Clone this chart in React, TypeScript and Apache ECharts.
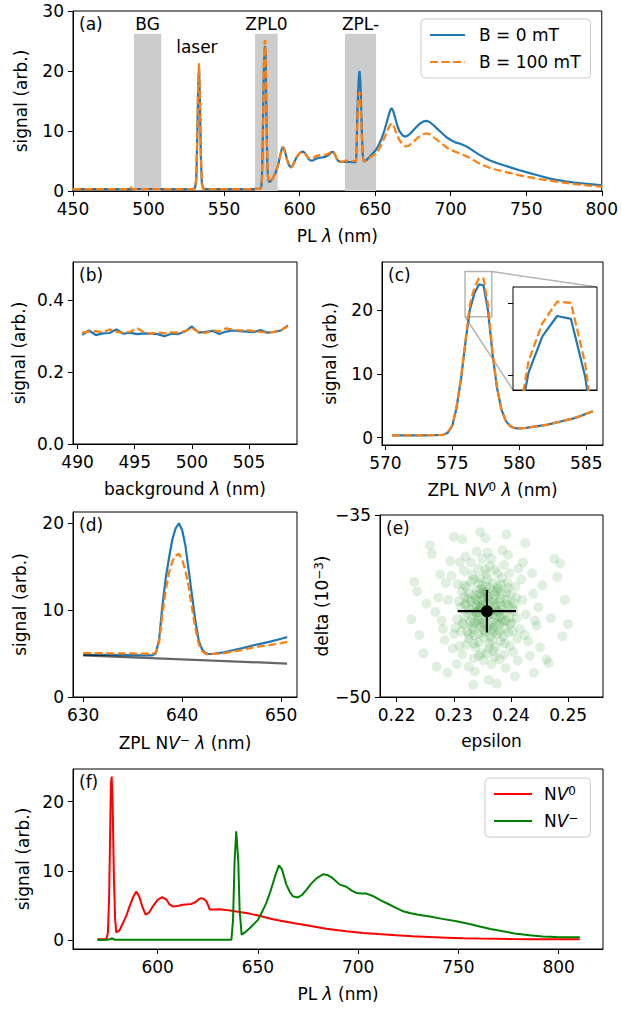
import React, { useEffect, useRef } from "react";
import * as echarts from "echarts";

const FONT = "DejaVu Sans";
const FS = 17;
const BLUE = "#1f77b4";
const ORANGE = "#ff7f0e";

// ---------- spectra, B = 0 mT (B) and B = 100 mT (O) ----------
const lowX = [450, 458, 466, 474, 482, 486.5, 488.2, 489.5];
const lowB = [0.3, 0.3, 0.3, 0.3, 0.3, 0.3, 0.31, 0.3];
const lowO = [0.3, 0.3, 0.3, 0.3, 0.3, 0.33, 0.6, 0.32];

// background window (panel b)
const bgX = [490.4, 491.0, 491.6, 492.2, 492.8, 493.4, 494.0, 494.6, 495.2, 495.8, 496.4, 497.0, 497.6, 498.2, 498.8, 499.4, 500.0, 500.6, 501.2, 501.8, 502.4, 503.0, 503.6, 504.2, 504.8, 505.4, 506.0, 506.6, 507.2, 507.8, 508.4];
const bgB = [0.303, 0.315, 0.302, 0.307, 0.308, 0.318, 0.306, 0.309, 0.305, 0.307, 0.306, 0.305, 0.299, 0.306, 0.305, 0.312, 0.326, 0.309, 0.311, 0.314, 0.305, 0.312, 0.315, 0.313, 0.312, 0.31, 0.316, 0.309, 0.311, 0.315, 0.329];
const bgO = [0.309, 0.312, 0.313, 0.31, 0.318, 0.311, 0.309, 0.311, 0.322, 0.31, 0.306, 0.31, 0.307, 0.31, 0.309, 0.313, 0.322, 0.31, 0.308, 0.316, 0.312, 0.321, 0.318, 0.315, 0.316, 0.313, 0.311, 0.309, 0.311, 0.316, 0.327];

const laserX = [509, 515, 520, 526, 529.5, 530.8, 531.6, 532.2, 532.8, 533.4, 534.0, 534.6, 535.3, 536.2, 538, 545, 555, 565, 570];
const laserB = [0.31, 0.31, 0.3, 0.3, 0.32, 0.5, 2.0, 8.0, 16.5, 20.5, 15.5, 6.0, 1.2, 0.4, 0.32, 0.3, 0.3, 0.3, 0.33];
const laserO = [0.31, 0.31, 0.3, 0.3, 0.32, 0.5, 2.1, 8.5, 17.5, 21.3, 16.0, 6.2, 1.2, 0.4, 0.32, 0.3, 0.3, 0.3, 0.33];

// NV0 zero-phonon line window (panel c)
const zpl0X = [570.5, 571.5, 572.5, 573.5, 574.3, 574.65, 575.0, 575.3, 575.65, 576.0, 576.32, 576.65, 577.0, 577.33, 577.67, 578.0, 578.33, 578.67, 579.0, 579.33, 579.67, 580.0, 580.5, 581.0, 581.5, 582.0, 582.5, 583.0, 583.5, 584.0, 584.5, 585.0, 585.5];
const zpl0B = [0.35, 0.35, 0.36, 0.38, 0.45, 0.75, 1.9, 4.5, 9.2, 15.3, 20.2, 22.7, 24.1, 23.9, 19.9, 13.2, 7.9, 4.4, 2.6, 1.8, 1.5, 1.45, 1.55, 1.7, 1.85, 2.0, 2.25, 2.5, 2.75, 3.0, 3.35, 3.75, 4.15];
const zpl0O = [0.35, 0.35, 0.36, 0.38, 0.45, 0.78, 2.0, 4.7, 9.5, 15.6, 21.0, 23.6, 25.1, 25.0, 20.8, 13.5, 8.0, 4.4, 2.6, 1.8, 1.5, 1.45, 1.55, 1.7, 1.85, 2.0, 2.25, 2.5, 2.75, 3.0, 3.35, 3.75, 4.15];

const midX = [586.0, 586.7, 587.5, 588.2, 588.9, 589.6, 590.5, 591.5, 592.5, 593.5, 594.4, 595.5, 596.8, 598.2, 599.6, 601.0, 602.3, 603.5, 604.8, 606.0, 607.4, 609.0, 611.0, 613.0, 615.0, 617.0, 619.0, 620.5, 621.5, 622.5, 623.5, 624.5, 625.5, 626.5, 627.5, 629.0];
const midB = [4.6, 5.4, 6.3, 7.0, 7.35, 7.1, 6.4, 5.4, 4.6, 4.1, 3.95, 4.3, 5.0, 5.7, 6.2, 6.5, 6.55, 6.3, 5.8, 5.3, 5.05, 5.1, 5.4, 5.55, 5.6, 5.7, 5.95, 6.3, 6.55, 6.45, 6.0, 5.4, 5.0, 4.9, 4.85, 4.85];
const midO = [4.6, 5.4, 6.3, 7.0, 7.3, 7.0, 6.3, 5.3, 4.5, 4.0, 3.9, 4.25, 5.0, 5.7, 6.2, 6.45, 6.5, 6.3, 5.85, 5.45, 5.3, 5.5, 5.85, 5.95, 6.0, 6.05, 6.2, 6.5, 6.65, 6.5, 6.05, 5.45, 5.05, 4.95, 4.9, 4.9];

// NV- zero-phonon line window (panel d)
const zplmX = [630.0, 631.5, 633.0, 634.5, 636.0, 637.0, 637.33, 637.67, 638.0, 638.33, 638.67, 639.0, 639.33, 639.67, 640.0, 640.33, 640.67, 641.0, 641.33, 641.67, 642.0, 642.33, 642.67, 643.0, 644.0, 645.0, 646.0, 647.0, 648.0, 649.0, 650.0, 650.6];
const zplmB = [4.85, 4.85, 4.83, 4.82, 4.8, 4.8, 5.0, 6.6, 10.5, 13.6, 16.0, 18.1, 19.4, 20.0, 19.2, 17.4, 14.5, 11.6, 8.8, 6.5, 5.5, 5.1, 4.95, 4.95, 5.1, 5.35, 5.6, 5.9, 6.15, 6.4, 6.7, 6.9];
const zplmO = [5.05, 5.05, 5.03, 5.02, 5.0, 5.0, 5.1, 6.3, 9.5, 12.2, 14.3, 15.6, 16.3, 16.5, 15.8, 14.5, 12.6, 10.2, 7.9, 6.1, 5.3, 5.0, 4.9, 4.95, 5.0, 5.2, 5.4, 5.65, 5.85, 6.0, 6.2, 6.35];
const fitX = [630, 650.6];
const fitY = [4.8, 3.85];

const tailX = [651.5, 653, 654.5, 656, 657.5, 659, 660.2, 661.0, 662.0, 663.2, 664.5, 666, 668, 670, 672, 674.5, 677, 679.5, 682, 684, 686, 688.5, 691, 694, 697, 700, 703, 706, 709, 712, 715, 718.5, 722, 726, 730, 735, 740, 745, 750, 755, 760, 765, 770, 776, 782, 788, 794, 800];
const tailB = [7.3, 8.0, 8.9, 10.0, 11.3, 12.7, 13.6, 13.8, 13.3, 12.2, 11.0, 10.0, 9.3, 9.05, 9.3, 9.9, 10.6, 11.2, 11.6, 11.7, 11.5, 11.0, 10.4, 9.7, 9.0, 8.5, 8.1, 7.9, 7.6, 7.2, 6.7, 6.1, 5.6, 5.1, 4.7, 4.3, 3.9, 3.5, 3.15, 2.8, 2.45, 2.1, 1.85, 1.6, 1.4, 1.25, 1.1, 0.95];
const tailO = [6.6, 7.2, 7.9, 8.8, 9.7, 10.6, 11.1, 11.3, 11.0, 10.2, 9.3, 8.5, 7.8, 7.45, 7.5, 8.0, 8.6, 9.1, 9.5, 9.6, 9.45, 9.0, 8.5, 7.9, 7.3, 6.85, 6.55, 6.25, 5.95, 5.6, 5.15, 4.65, 4.25, 3.85, 3.55, 3.25, 2.95, 2.65, 2.4, 2.15, 1.95, 1.75, 1.55, 1.35, 1.15, 1.0, 0.85, 0.72];

const bandNames = ["BG", "ZPL0", "ZPL-"];
const bandTop = 26.2;
const laserLabel = { x: 532, y: 24, text: "laser" };
const insetBoxX = [575.95, 577.95];
const insetBoxY = [19.0, 26.1];

// ---------- panel (e): epsilon / delta samples ----------
const epsDelta = [
  [0.2358,-42.9],[0.2331,-42.1],[0.2384,-43.6],[0.2347,-44.2],[0.2372,-41.6],[0.2319,-43.3],[0.2396,-42.4],[0.2352,-41.3],[0.2365,-44.5],[0.2338,-43.0],
  [0.2401,-43.9],[0.2325,-41.9],[0.2380,-42.2],[0.2343,-43.7],[0.2369,-43.2],[0.2312,-42.6],[0.2392,-41.4],[0.2355,-44.7],[0.2377,-40.9],[0.2334,-44.4],
  [0.2361,-42.0],[0.2389,-44.3],[0.2328,-42.8],[0.2350,-40.8],[0.2405,-42.9],[0.2340,-41.2],[0.2374,-43.9],[0.2317,-44.0],[0.2398,-43.4],[0.2357,-43.5],
  [0.2383,-40.7],[0.2322,-40.9],[0.2346,-42.5],[0.2371,-42.6],[0.2363,-41.0],[0.2336,-44.9],[0.2409,-41.8],[0.2306,-43.6],[0.2387,-45.0],[0.2353,-41.8],
  [0.2367,-45.3],[0.2330,-40.5],[0.2394,-40.6],[0.2344,-45.5],[0.2376,-44.8],[0.2314,-41.3],[0.2359,-40.3],[0.2403,-44.6],[0.2326,-45.2],[0.2381,-41.9],
  [0.2349,-42.7],[0.2363,-43.1],[0.2341,-43.3],[0.2373,-42.4],[0.2356,-42.3],[0.2367,-43.8],[0.2337,-41.6],[0.2379,-44.0],[0.2345,-44.0],[0.2386,-42.8],
  [0.2329,-43.8],[0.2360,-41.7],[0.2351,-43.9],[0.2375,-41.3],[0.2339,-42.4],[0.2390,-43.1],[0.2321,-42.3],[0.2362,-44.1],[0.2354,-41.5],[0.2381,-43.4],
  [0.2333,-43.5],[0.2370,-42.0],[0.2348,-41.1],[0.2393,-42.0],[0.2316,-43.9],[0.2364,-45.0],[0.2342,-42.9],[0.2378,-43.0],[0.2358,-44.3],[0.2327,-41.5],
  [0.2399,-44.0],[0.2344,-40.6],[0.2368,-40.6],[0.2335,-43.9],[0.2382,-45.4],[0.2352,-45.1],[0.2324,-44.6],[0.2406,-42.3],[0.2309,-42.1],[0.2373,-45.9],
  [0.2357,-39.9],[0.2338,-45.9],[0.2395,-41.0],[0.2318,-40.8],[0.2361,-46.0],[0.2384,-40.2],[0.2332,-39.9],[0.2410,-43.5],[0.2303,-44.3],[0.2349,-42.0],
  [0.2360,-43.3],[0.2347,-42.6],[0.2371,-44.6],[0.2338,-41.9],[0.2385,-43.8],[0.2325,-43.1],[0.2392,-42.3],[0.2356,-40.9],[0.2366,-42.8],[0.2343,-44.8],
  [0.2378,-41.1],[0.2332,-44.2],[0.2400,-41.6],[0.2351,-42.4],[0.2374,-43.4],[0.2319,-41.7],[0.2362,-45.6],[0.2346,-40.2],[0.2389,-45.6],[0.2327,-44.9],
  [0.2354,-43.0],[0.2369,-41.3],[0.2341,-42.0],[0.2383,-42.5],[0.2336,-45.6],[0.2395,-44.7],[0.2313,-44.6],[0.2377,-39.8],[0.2358,-46.4],[0.2408,-40.9],
  [0.2349,-43.6],[0.2365,-42.2],[0.2334,-42.6],[0.2380,-44.6],[0.2355,-39.5],[0.2322,-45.7],[0.2397,-39.8],[0.2344,-46.6],[0.2372,-46.7],[0.2307,-40.7],
  [0.2416,-44.4],[0.2363,-39.2],[0.2330,-38.9],[0.2388,-46.5],[0.2352,-44.5],[0.2376,-42.9],[0.2340,-43.1],[0.2391,-43.7],[0.2320,-42.4],[0.2411,-45.2],
  [0.2357,-41.4],[0.2370,-44.2],[0.2345,-41.5],[0.2384,-41.5],[0.2335,-40.3],[0.2402,-42.6],[0.2315,-46.5],[0.2366,-47.3],[0.2350,-38.6],[0.2420,-42.0],
  [0.2290,-42.0],[0.2426,-43.2],[0.2300,-44.8],[0.2418,-40.3],[0.2343,-39.4],[0.2370,-46.2],[0.2286,-40.6],[0.2430,-45.4],[0.2311,-38.9],[0.2404,-46.3],
  [0.2279,-43.7],[0.2439,-41.5],[0.2352,-47.0],[0.2366,-38.6],[0.2298,-46.0],[0.2421,-38.9],[0.2335,-46.8],[0.2388,-39.1],[0.2273,-41.8],[0.2445,-44.1],
  [0.2318,-39.6],[0.2412,-47.0],[0.2294,-38.8],[0.2433,-46.6],[0.2359,-38.1],[0.2380,-46.9],[0.2284,-45.3],[0.2448,-42.6],[0.2305,-47.3],[0.2395,-38.3],
  [0.2326,-47.5],[0.2413,-39.4],[0.2268,-43.0],[0.2455,-40.8],[0.2340,-38.0],[0.2391,-47.6],[0.2296,-40.0],[0.2424,-44.9],[0.2310,-45.8],[0.2437,-39.8],
  [0.2348,-46.4],[0.2372,-39.5],[0.2281,-44.4],[0.2442,-43.7],[0.2321,-38.4],[0.2398,-45.8],[0.2276,-39.9],[0.2451,-45.9],[0.2337,-47.9],[0.2385,-37.9],
  [0.2252,-42.3],[0.2470,-43.5],[0.2262,-38.2],[0.2466,-47.2],[0.2355,-36.9],[0.2361,-48.6],[0.2240,-44.9],[0.2481,-40.1],[0.2289,-48.0],[0.2425,-37.3],
  [0.2231,-40.5],[0.2490,-45.0],[0.2315,-37.0],[0.2407,-48.3],[0.2247,-46.4],[0.2476,-38.6],[0.2300,-36.8],[0.2440,-48.0],[0.2226,-43.6],[0.2494,-42.0],
  [0.2334,-49.0],[0.2392,-36.6],[0.2258,-37.5],[0.2462,-46.9],[0.2270,-47.5],[0.2486,-39.0],[0.2346,-36.4],[0.2375,-48.9],[0.2236,-41.3],[0.2500,-44.0]
];
const meanPoint = [0.2358, -42.93];
const meanErr = [0.0051, 1.75];

// ---------- panel (f): separated NV0 / NV- spectra ----------
const nv0X = [570, 572, 574.4, 575.2, 575.8, 576.3, 576.7, 577.1, 577.6, 578.2, 578.8, 579.4, 581, 582.7, 584.5, 586, 587.8, 589.4, 590.8, 592.5, 594, 595.8, 597.7, 600, 602.3, 604.5, 606, 607.6, 610, 612.6, 615, 616.8, 619, 620.5, 621.8, 623.2, 624.3, 625.2, 626, 628, 631, 634, 637.6, 641, 644.2, 647.5, 650.9, 654, 657.5, 662, 667.5, 672, 677, 684.1, 690, 694.1, 702.4, 710, 719, 727, 735.6, 744, 752.3, 760, 768.9, 777, 785.5, 795, 803, 810.5];
const nv0Y = [0.1, 0.12, 0.15, 1.0, 6.0, 15.0, 22.5, 23.6, 19.0, 9.0, 3.0, 1.1, 1.4, 2.45, 3.6, 4.85, 6.2, 7.0, 6.3, 4.7, 3.65, 4.0, 4.9, 5.8, 6.2, 5.8, 5.1, 4.85, 4.9, 5.1, 5.15, 5.2, 5.5, 5.9, 6.05, 5.9, 5.6, 5.0, 4.4, 4.4, 4.45, 4.35, 4.2, 4.05, 3.9, 3.7, 3.5, 3.25, 3.0, 2.75, 2.45, 2.25, 2.0, 1.63, 1.4, 1.25, 1.0, 0.85, 0.68, 0.55, 0.43, 0.34, 0.25, 0.2, 0.17, 0.14, 0.12, 0.12, 0.12, 0.12];
const nvmX = [570, 575, 576.5, 577.3, 578.5, 585, 600, 615, 630, 636.8, 637.6, 638.4, 639.2, 640.2, 640.9, 641.9, 643.5, 645.9, 648, 650, 652, 654.1, 656, 657.5, 659, 660.5, 662, 664.2, 666, 667.5, 670, 672, 674.1, 676.5, 679.2, 682.5, 684.5, 687, 690.8, 694.1, 697, 699.1, 702, 704.1, 707, 710.8, 715, 719.1, 722, 725.7, 730, 735.7, 742, 749, 755, 760.6, 766, 772.2, 778, 785.5, 792, 798.8, 805, 810.5];
const nvmY = [0.0, 0.03, 0.15, 0.25, 0.05, 0.02, 0.02, 0.02, 0.03, 0.05, 2.9, 11.5, 15.7, 11.5, 4.3, 0.75, 1.1, 1.7, 2.3, 2.9, 4.0, 5.3, 6.8, 8.2, 9.6, 10.8, 10.2, 8.0, 6.9, 6.3, 6.15, 6.5, 7.2, 8.1, 8.9, 9.5, 9.4, 9.0, 8.0, 7.7, 7.1, 6.8, 6.7, 6.7, 6.4, 5.8, 5.2, 4.6, 4.2, 3.9, 3.65, 3.4, 3.05, 2.7, 2.35, 1.95, 1.6, 1.25, 0.95, 0.67, 0.52, 0.42, 0.4, 0.4];

// ---------- tick values ----------
const ticksAX = [450, 500, 550, 600, 650, 700, 750, 800];
const ticksAY = [0, 10, 20, 30];
const ticksBX = [490, 495, 500, 505];
const ticksBY = [0, 0.2, 0.4];
const ticksCX = [570, 575, 580, 585];
const ticksCY = [0, 10, 20];
const ticksInsetY = [20, 25];
const ticksDX = [630, 640, 650];
const ticksDY = [0, 10, 20];
const ticksEX = [0.22, 0.23, 0.24, 0.25];
const ticksEY = [-50, -35];
const ticksFX = [600, 650, 700, 750, 800];
const ticksFY = [0, 10, 20];

const zip = (xs: number[], ys: number[]) => xs.map((x, i) => [x, ys[i]]);
const fullB = [
  ...zip(lowX, lowB), ...zip(bgX, bgB), ...zip(laserX, laserB), ...zip(zpl0X, zpl0B),
  ...zip(midX, midB), ...zip(zplmX, zplmB), ...zip(tailX, tailB),
];
const fullO = [
  ...zip(lowX, lowO), ...zip(bgX, bgO), ...zip(laserX, laserO), ...zip(zpl0X, zpl0O),
  ...zip(midX, midO), ...zip(zplmX, zplmO), ...zip(tailX, tailO),
];

const minus = (s: string) => s.replace("-", "\u2212");

const RICH = {
  i: { fontStyle: "italic", fontSize: FS, fontFamily: FONT, color: "#000" },
  s: { fontSize: 12, fontFamily: FONT, color: "#000", verticalAlign: "top", lineHeight: 12, padding: [0, 0, 6, 0] },
};

// grids: [left, top, width, height]
const GRIDS = [
  [73, 11, 530, 180], // a
  [73, 262, 224, 182], // b
  [382, 262, 221, 183], // c
  [73, 512, 224, 185], // d
  [380, 515, 223, 182], // e
  [73, 769, 530, 180], // f
  [513, 287, 84, 103], // inset of c
];

function xAx(gi: number, min: number, max: number, ticks: number[], name: string, gap: number, fmt?: (v: number) => string) {
  return {
    type: "value", gridIndex: gi, min, max, position: "bottom",
    name, nameLocation: "middle", nameGap: gap,
    nameTextStyle: { fontSize: FS, fontFamily: FONT, color: "#000", rich: RICH },
    axisLine: { show: true, onZero: false, lineStyle: { color: "#000", width: 1 } },
    axisTick: { show: ticks.length > 0, length: 5, lineStyle: { color: "#000", width: 1 }, customValues: ticks },
    axisLabel: { show: ticks.length > 0 && !!name, customValues: ticks, margin: 9, fontSize: FS, fontFamily: FONT, color: "#000", formatter: fmt || ((v: number) => String(v)) },
    splitLine: { show: false },
  };
}
function yAx(gi: number, min: number, max: number, ticks: number[], name: string, gap: number, fmt?: (v: number) => string) {
  return {
    type: "value", gridIndex: gi, min, max, position: "left",
    name, nameLocation: "middle", nameGap: gap,
    nameTextStyle: { fontSize: FS, fontFamily: FONT, color: "#000", rich: RICH },
    axisLine: { show: true, onZero: false, lineStyle: { color: "#000", width: 1 } },
    axisTick: { show: true, length: 5, lineStyle: { color: "#000", width: 1 }, customValues: ticks },
    axisLabel: { show: !!name, customValues: ticks, margin: 9, fontSize: FS, fontFamily: FONT, color: "#000", formatter: fmt || ((v: number) => minus(String(v))) },
    splitLine: { show: false },
  };
}

function line(name: string, ai: number, data: number[][], color: string, dashed: boolean, width = 2.2, z = 2) {
  return {
    type: "line", name, xAxisIndex: ai, yAxisIndex: ai, data,
    symbol: "none", showSymbol: false, silent: true, z,
    lineStyle: { color, width, type: dashed ? [8, 3.5] : "solid" },
    itemStyle: { color },
  };
}

const SIGNAL = "signal (arb.)";

function buildOption() {
  const bands = [
    [bgX[0], bgX[bgX.length - 1]],
    [zpl0X[0], zpl0X[zpl0X.length - 1]],
    [zplmX[0], zplmX[zplmX.length - 1]],
  ];
  const aBlue: any = line("B = 0 mT", 0, fullB, BLUE, false);
  aBlue.markArea = {
    silent: true,
    itemStyle: { color: "#cccccc" },
    label: { show: true, position: "top", distance: 1, fontSize: FS, fontFamily: FONT, color: "#000", formatter: "{b}" },
    data: bands.map((b, i) => [
      { name: bandNames[i], xAxis: b[0], yAxis: 0 },
      { xAxis: b[1], yAxis: bandTop },
    ]),
  };
  const cBlue: any = line("c0", 2, zip(zpl0X, zpl0B), BLUE, false);
  cBlue.markArea = {
    silent: true,
    itemStyle: { color: "rgba(0,0,0,0)", borderColor: "#b5b5b5", borderWidth: 1.5 },
    data: [[{ xAxis: insetBoxX[0], yAxis: insetBoxY[0] }, { xAxis: insetBoxX[1], yAxis: insetBoxY[1] }]],
  };

  const legendBase = {
    orient: "vertical", itemHeight: 14, itemGap: 9,
    borderColor: "#cccccc", borderWidth: 1, borderRadius: 4, backgroundColor: "rgba(255,255,255,0.85)",
    selectedMode: false,
    itemStyle: { opacity: 0, borderWidth: 0 },
  };

  return {
    animation: false,
    backgroundColor: "#ffffff",
    textStyle: { fontFamily: FONT },
    grid: GRIDS.map((g, i) => ({
      left: g[0], top: g[1], width: g[2], height: g[3],
      show: true, borderColor: "#000", borderWidth: 1,
      backgroundColor: i === 6 ? "#ffffff" : "transparent",
      z: i === 6 ? 5 : 0,
    })),
    legend: [
      {
        ...legendBase,
        data: ["B = 0 mT", "B = 100 mT"], left: 421, top: 19,
        itemWidth: 35, padding: [7, 10, 7, 8],
        textStyle: { fontSize: FS, fontFamily: FONT, color: "#000", lineHeight: 18, padding: [0, 0, 0, 9] },
      },
      {
        ...legendBase,
        data: ["NV0", "NV-"], left: 485, top: 778,
        itemWidth: 38, padding: [7, 12, 7, 8],
        formatter: (n: string) => (n === "NV0" ? "N{i|V}{s|0}" : "N{i|V}{s|\u2212}"),
        textStyle: { fontSize: FS, fontFamily: FONT, color: "#000", lineHeight: 18, padding: [0, 0, 0, 7], rich: RICH },
      },
    ],
    xAxis: [
      xAx(0, 450, 800, ticksAX, "PL {i|λ} (nm)", 36),
      xAx(1, 489.6, 509.2, ticksBX, "background {i|λ} (nm)", 36),
      xAx(2, 569.75, 586.25, ticksCX, "ZPL N{i|V}{s|0} {i|λ} (nm)", 36),
      xAx(3, 628.97, 651.6, ticksDX, "ZPL N{i|V}{s|\u2212} {i|λ} (nm)", 37),
      xAx(4, 0.2171, 0.2561, ticksEX, "epsilon", 35, (v: number) => v.toFixed(2)),
      xAx(5, 557.8, 822.1, ticksFX, "PL {i|λ} (nm)", 36),
      xAx(6, insetBoxX[0], insetBoxX[1], [], "", 0),
    ],
    yAxis: [
      yAx(0, 0, 30, ticksAY, SIGNAL, 44),
      yAx(1, 0, 0.505, ticksBY, SIGNAL, 46, (v: number) => v.toFixed(1)),
      yAx(2, -1.15, 27.6, ticksCY, SIGNAL, 44),
      yAx(3, 0, 21.3, ticksDY, SIGNAL, 45),
      yAx(4, -50, -35, ticksEY, "delta (10{s|\u22123})", 40),
      yAx(5, -1.3, 24.7, ticksFY, SIGNAL, 41),
      yAx(6, insetBoxY[0], insetBoxY[1], ticksInsetY, "", 0),
    ],
    series: [
      aBlue,
      line("B = 100 mT", 0, fullO, ORANGE, true, 2.2, 3),
      line("b0", 1, zip(bgX, bgB), BLUE, false),
      line("b1", 1, zip(bgX, bgO), ORANGE, true, 2.2, 3),
      cBlue,
      line("c1", 2, zip(zpl0X, zpl0O), ORANGE, true, 2.2, 3),
      line("i0", 6, zip(zpl0X, zpl0B), BLUE, false, 2.2, 6),
      line("i1", 6, zip(zpl0X, zpl0O), ORANGE, true, 2.2, 7),
      line("d0", 3, zip(zplmX, zplmB), BLUE, false),
      line("d1", 3, zip(zplmX, zplmO), ORANGE, true, 2.2, 3),
      line("dfit", 3, zip(fitX, fitY), "rgba(0,0,0,0.6)", false, 2.2, 4),
      {
        type: "scatter", xAxisIndex: 4, yAxisIndex: 4, silent: true, symbolSize: 10,
        itemStyle: { color: "#008000", opacity: 0.12 },
        data: epsDelta,
      },
      line("eh", 4, [[meanPoint[0] - meanErr[0], meanPoint[1]], [meanPoint[0] + meanErr[0], meanPoint[1]]], "#000", false, 2.2, 4),
      line("ev", 4, [[meanPoint[0], meanPoint[1] - meanErr[1]], [meanPoint[0], meanPoint[1] + meanErr[1]]], "#000", false, 2.2, 4),
      {
        type: "scatter", xAxisIndex: 4, yAxisIndex: 4, silent: true, symbolSize: 12, z: 5,
        itemStyle: { color: "#000", opacity: 1 },
        data: [meanPoint],
      },
      line("NV0", 5, zip(nv0X, nv0Y), "#ff0000", false, 2),
      line("NV-", 5, zip(nvmX, nvmY), "#008000", false, 2),
    ],
  };
}

export default function App() {
  const ref = useRef<HTMLDivElement>(null);
  useEffect(() => {
    if (!ref.current) return;
    const chart = echarts.init(ref.current, null, { renderer: "svg" });
    chart.setOption(buildOption() as any);
    const px = (gi: number, v: number[]) => chart.convertToPixel({ gridIndex: gi } as any, v) as number[];
    const tr0 = px(2, [insetBoxX[1], insetBoxY[1]]);
    const tr1 = px(6, [insetBoxX[1], insetBoxY[1]]);
    const bl0 = px(2, [insetBoxX[0], insetBoxY[0]]);
    const bl1 = px(6, [insetBoxX[0], insetBoxY[0]]);
    const lp = px(0, [laserLabel.x, laserLabel.y]);
    const tags = ["(a)", "(b)", "(c)", "(d)", "(e)", "(f)"];
    const graphic: any[] = tags.map((t, i) => ({
      type: "text", x: GRIDS[i][0] + 6, y: GRIDS[i][1] + 4, z: 20, silent: true,
      style: { text: t, fill: "#000", font: `${FS}px "${FONT}"`, verticalAlign: "top", textVerticalAlign: "top" },
    }));
    if (lp) {
      graphic.push({
        type: "text", x: lp[0], y: lp[1], z: 20, silent: true,
        style: { text: laserLabel.text, fill: "#000", font: `${FS}px "${FONT}"`, align: "center", textAlign: "center", verticalAlign: "middle", textVerticalAlign: "middle" },
      });
    }
    const conn = (a: number[], b: number[]) => ({
      type: "line", z: 1, silent: true,
      shape: { x1: a[0], y1: a[1], x2: b[0], y2: b[1] },
      style: { stroke: "#b5b5b5", lineWidth: 1.5 },
    });
    if (tr0 && tr1 && bl0 && bl1) {
      graphic.push(conn(tr0, tr1), conn(bl0, bl1));
    }
    chart.setOption({ graphic });
    return () => chart.dispose();
  }, []);
  return <div ref={ref} style={{ position: "absolute", left: 0, top: 0, width: 621, height: 1009 }} />;
}
